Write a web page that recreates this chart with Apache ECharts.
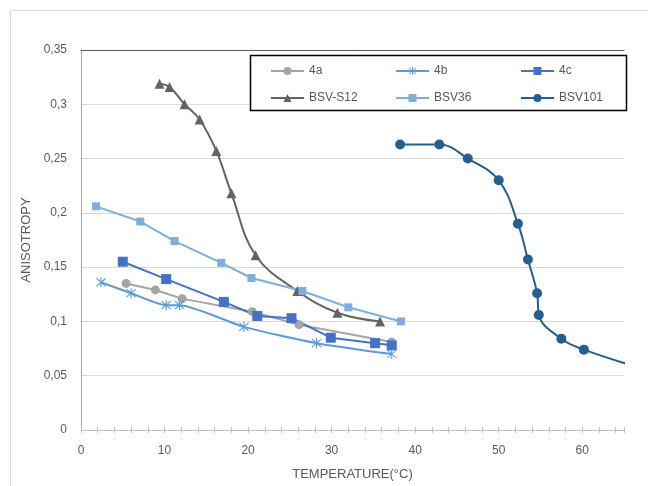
<!DOCTYPE html>
<html>
<head>
<meta charset="utf-8">
<script src="https://cdn.jsdelivr.net/npm/echarts@6/dist/echarts.min.js"></script>
<style>html,body{margin:0;padding:0;background:#fff}#c{width:648px;height:486px}</style>
</head>
<body>
<div id="c"></div>
<script>
// Data (x = temperature °C, y = anisotropy)
const s4a_x = [5.4, 8.9, 12.1, 20.5, 26.1, 37.2];
const s4a_y = [0.135, 0.129, 0.121, 0.109, 0.097, 0.081];
const s4b_x = [2.4, 6.0, 10.2, 11.8, 19.5, 28.2, 37.2];
const s4b_y = [0.136, 0.126, 0.115, 0.115, 0.095, 0.080, 0.070];
const s4c_x = [5.0, 10.2, 17.1, 21.1, 25.2, 29.9, 35.2, 37.2];
const s4c_y = [0.155, 0.139, 0.118, 0.105, 0.103, 0.085, 0.080, 0.078];
const sS12_x = [9.4, 10.6, 12.4, 14.2, 16.2, 18.0, 20.9, 25.9, 30.7, 35.8];
const sS12_y = [0.319, 0.316, 0.300, 0.286, 0.257, 0.218, 0.161, 0.128, 0.108, 0.100];
const s36_x = [1.8, 7.1, 11.2, 16.8, 20.4, 26.5, 32.0, 38.3];
const s36_y = [0.206, 0.192, 0.174, 0.154, 0.140, 0.128, 0.113, 0.100];
const s101_x = [38.2, 42.9, 46.3, 50.0, 52.3, 53.5, 54.6, 54.8, 57.5, 60.2, 67.0];
const s101_y = [0.263, 0.263, 0.250, 0.230, 0.190, 0.157, 0.126, 0.106, 0.084, 0.074, 0.057];
const seriesNames = ['4a', '4b', '4c', 'BSV-S12', 'BSV36', 'BSV101'];
const yTicks = [0, 0.05, 0.1, 0.15, 0.2, 0.25, 0.3, 0.35];
const xTicks = [0, 10, 20, 30, 40, 50, 60];

const pair = (xs, ys) => xs.map((x, i) => [x, ys[i]]);
const FONT = 'Liberation Sans';
const TXT = '#595959';
const starPath = 'path://M4.5,0L5.5,0L5.5,10L4.5,10Z M1.35,0.65L9.35,8.65L8.65,9.35L0.65,1.35Z M8.65,0.65L9.35,1.35L1.35,9.35L0.65,8.65Z';

function line(name, data, color, symbol, size, smooth) {
  return {
    name, type: 'line', data, smooth: smooth || false,
    symbol, symbolSize: size, showSymbol: true,
    xAxisIndex: 0, yAxisIndex: 0,
    lineStyle: { color, width: 2 },
    itemStyle: { color, borderWidth: 0 },
    emphasis: { disabled: true }
  };
}

const chart = echarts.init(document.getElementById('c'), null, { renderer: 'canvas' });
const legendCommon = {
  orient: 'vertical', top: 65, itemGap: 15, itemWidth: 33, itemHeight: 10,
  textStyle: { fontFamily: FONT, fontSize: 12, color: TXT }, padding: 0, selectedMode: false
};
chart.setOption({
  animation: false,
  backgroundColor: '#fff',
  textStyle: { fontFamily: FONT },
  graphic: [
    { type: 'rect', z: -10, shape: { x: 10.5, y: 10.5, width: 700, height: 700 },
      style: { fill: 'none', stroke: '#D9D9D9', lineWidth: 1 } },
    { type: 'rect', z: 10, shape: { x: 250.5, y: 55.5, width: 376, height: 55 },
      style: { fill: '#fff', stroke: '#000', lineWidth: 1.5 } }
  ],
  legend: [
    Object.assign({ left: 270, data: [seriesNames[0], seriesNames[3]], z: 20 }, legendCommon),
    Object.assign({ left: 395, data: [seriesNames[1], seriesNames[4]], z: 20 }, legendCommon),
    Object.assign({ left: 520, data: [seriesNames[2], seriesNames[5]], z: 20 }, legendCommon)
  ],
  grid: { left: 81, top: 50, right: 24, bottom: 53, containLabel: false },
  xAxis: [
    { type: 'value', min: 0, max: 65, interval: 10, position: 'bottom',
      name: 'TEMPERATURE(°C)', nameLocation: 'middle', nameGap: 38,
      nameTextStyle: { fontFamily: FONT, fontSize: 13, color: TXT },
      axisLine: { show: true, lineStyle: { color: '#BFBFBF', width: 1 } },
      axisTick: { show: true, length: 3, lineStyle: { color: '#BFBFBF' } },
      minorTick: { show: true, splitNumber: 5, length: 3, lineStyle: { color: '#BFBFBF' } },
      axisLabel: { fontFamily: FONT, fontSize: 12, color: TXT, margin: 15,
        formatter: v => (xTicks.indexOf(v) >= 0 ? String(v) : '') },
      splitLine: { show: false } },
    { type: 'value', min: 0, max: 65, interval: 10, position: 'bottom',
      axisLine: { show: false },
      axisTick: { show: true, inside: true, length: 3, lineStyle: { color: '#BFBFBF' } },
      minorTick: { show: true, splitNumber: 5, length: 3, lineStyle: { color: '#BFBFBF' } },
      axisLabel: { show: false }, splitLine: { show: false } },
    { type: 'value', min: 0, max: 65, position: 'top',
      axisLine: { show: true, lineStyle: { color: '#595959', width: 1 } },
      axisTick: { show: false }, axisLabel: { show: false }, splitLine: { show: false } }
  ],
  yAxis: [
    { type: 'value', min: 0, max: 0.35, interval: 0.05,
      name: 'ANISOTROPY', nameLocation: 'middle', nameGap: 47, nameRotate: 90,
      nameTextStyle: { fontFamily: FONT, fontSize: 13, color: TXT },
      axisLine: { show: true, lineStyle: { color: '#BFBFBF', width: 1 } },
      axisTick: { show: false },
      axisLabel: { fontFamily: FONT, fontSize: 12, color: TXT, margin: 14,
        formatter: v => String(Math.round(v * 100) / 100).replace('.', ',') },
      splitLine: { show: true, lineStyle: { color: '#D9D9D9', width: 1 } } },
    { type: 'value', min: 0, max: 0.35, position: 'right',
      axisLine: { show: true, lineStyle: { color: '#A6A6A6', width: 1 } },
      axisTick: { show: false }, axisLabel: { show: false }, splitLine: { show: false } }
  ],
  series: [
    line(seriesNames[0], pair(s4a_x, s4a_y), '#A5A5A5', 'circle', 9, false),
    line(seriesNames[1], pair(s4b_x, s4b_y), '#5B9BD5', starPath, 10, 0.2),
    line(seriesNames[2], pair(s4c_x, s4c_y), '#4472C4', 'rect', 10, false),
    line(seriesNames[3], pair(sS12_x, sS12_y), '#636363', 'triangle', 10, 0.4),
    line(seriesNames[4], pair(s36_x, s36_y), '#7CAFDD', 'rect', 8, false),
    line(seriesNames[5], pair(s101_x, s101_y), '#255E91', 'circle', 10, 0.4)
  ]
});
</script>
</body>
</html>
